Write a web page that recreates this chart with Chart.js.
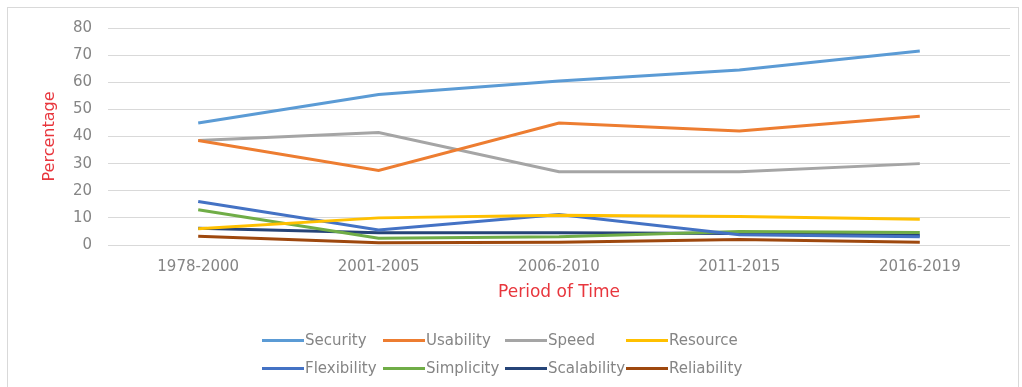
<!DOCTYPE html>
<html>
<head>
<meta charset="utf-8">
<script src="https://cdn.jsdelivr.net/npm/chart.js@4.4.0/dist/chart.umd.min.js"></script>
<style>
  html, body { margin: 0; padding: 0; background: #fff; }
  #wrap { position: relative; width: 1022px; height: 387px; overflow: hidden; }
  #frame { position: absolute; left: 7px; top: 7px; width: 1010px; height: 392px; border: 1px solid #d9d9d9; }
  #chart { position: absolute; left: 0; top: 0; }
  #legend { position: absolute; left: 262px; top: 326px; display: grid;
            grid-template-columns: 121px 122px 121px 130px; grid-auto-rows: 28px; }
  .item { display: flex; align-items: center; font: 15px "DejaVu Sans", sans-serif; color: #858585; white-space: nowrap; }
  .swatch { width: 42px; height: 3px; margin-right: 1px; }
</style>
</head>
<body>
<div id="wrap">
  <div id="frame"></div>
  <canvas id="chart" width="1022" height="387"></canvas>
  <div id="legend"></div>
</div>
<script>
// categories and series
const periods = ['1978-2000', '2001-2005', '2006-2010', '2011-2015', '2016-2019'];
const security = [45, 55.5, 60.5, 64.5, 71.5];
const usability = [38.5, 27.5, 45, 42, 47.5];
const speed = [38.5, 41.5, 27, 27, 30];
const resource = [6, 10, 11, 10.5, 9.5];
const flexibility = [16, 5.5, 11.2, 3.8, 3];
const simplicity = [13, 2.5, 3, 5, 4.6];
const scalability = [6.2, 4.5, 4.5, 4.2, 3.6];
const reliability = [3.2, 0.8, 1, 2, 1];
const yTicks = [0, 10, 20, 30, 40, 50, 60, 70, 80];

const series = [
    {label: 'Security', data: security, color: '#5b9bd5'},
    {label: 'Usability', data: usability, color: '#ed7d31'},
    {label: 'Speed', data: speed, color: '#a5a5a5'},
    {label: 'Resource', data: resource, color: '#ffc000'},
    {label: 'Flexibility', data: flexibility, color: '#4472c4'},
    {label: 'Simplicity', data: simplicity, color: '#70ad47'},
    {label: 'Scalability', data: scalability, color: '#264478'},
    {label: 'Reliability', data: reliability, color: '#9e480e'}
];

const font = "'DejaVu Sans', sans-serif";

const chart = new Chart(document.getElementById('chart'), {
    type: 'line',
    data: {
        labels: periods,
        datasets: series.map(s => ({
            label: s.label, data: s.data, borderColor: s.color, backgroundColor: s.color,
            borderWidth: 3, pointRadius: 0, tension: 0, fill: false
        }))
    },
    options: {
        responsive: false,
        devicePixelRatio: 1,
        animation: false,
        layout: {padding: {left: 8, top: 28, right: 12, bottom: 62}},
        plugins: {legend: {display: false}, tooltip: {enabled: false}},
        scales: {
            x: {
                offset: true,
                grid: {display: false, drawTicks: false},
                border: {display: false},
                ticks: {color: '#858585', padding: 13, font: {family: font, size: 15}, maxRotation: 0},
                title: {display: true, text: 'Period of Time', color: '#e8363d',
                        font: {family: font, size: 17}, padding: {top: 22, bottom: 22}},
                afterFit: scale => { scale.height = 80; }
            },
            y: {
                min: 0,
                max: 80,
                afterBuildTicks: scale => { scale.ticks = yTicks.map(v => ({value: v})); },
                grid: {color: '#d9d9d9', lineWidth: 1, drawTicks: false},
                border: {display: false},
                ticks: {color: '#858585', padding: 16, font: {family: font, size: 15}},
                title: {display: true, text: 'Percentage', color: '#e8363d',
                        font: {family: font, size: 16}, padding: {top: 32, bottom: 0}},
                afterFit: scale => { scale.width = 100; }
            }
        }
    }
});

// legend in a 4-column grid like the original
const legend = document.getElementById('legend');
chart.data.datasets.forEach(ds => {
    const item = document.createElement('div');
    item.className = 'item';
    const swatch = document.createElement('span');
    swatch.className = 'swatch';
    swatch.style.background = ds.borderColor;
    item.appendChild(swatch);
    item.appendChild(document.createTextNode(ds.label));
    legend.appendChild(item);
});
</script>
</body>
</html>
